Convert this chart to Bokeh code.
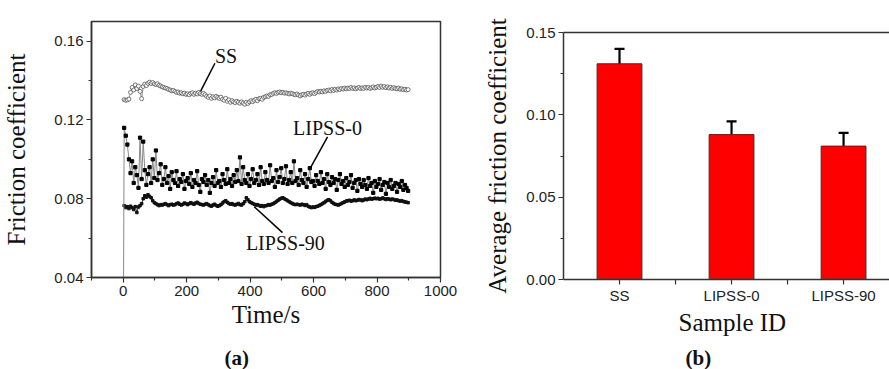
from bokeh.plotting import figure
from bokeh.layouts import row
from bokeh.models import (Range1d, FixedTicker, NumeralTickFormatter, LinearAxis,
                          Label, Whisker, ColumnDataSource, TeeHead, Title)
from bokeh.embed import file_html
from bokeh.resources import INLINE

# ---------------- data: panel (a) ----------------
time_s = list(range(3, 903, 5))  # sampling instants, s

ss = [
    .1303, .1300, .1302, .1306, .1340, .1365, .1352, .1378, .1360, .1372,
    .1345, .1308, .1370, .1382, .1375, .1386, .1392, .1385, .1390, .1383,
    .1380, .1384, .1376, .1372, .1368, .1365, .1362, .1360, .1355, .1352,
    .1348, .1350, .1345, .1340, .1342, .1336, .1338, .1333, .1336, .1330,
    .1333, .1328, .1335, .1338, .1330, .1336, .1332, .1340, .1334, .1330,
    .1335, .1328, .1320, .1315, .1322, .1310, .1318, .1312, .1320, .1315,
    .1310, .1316, .1305, .1300, .1310, .1295, .1302, .1290, .1298, .1292,
    .1288, .1295, .1290, .1285, .1292, .1286, .1280, .1290, .1284, .1292,
    .1298, .1293, .1300, .1305, .1298, .1308, .1310, .1305, .1315, .1318,
    .1322, .1320, .1328, .1330, .1335, .1338, .1335, .1340, .1342, .1338,
    .1340, .1336, .1338, .1335, .1332, .1336, .1334, .1330, .1328, .1332,
    .1326, .1322, .1328, .1330, .1326, .1332, .1335, .1330, .1336, .1338,
    .1334, .1340, .1345, .1342, .1346, .1343, .1348, .1345, .1350, .1352,
    .1348, .1355, .1350, .1356, .1352, .1358, .1355, .1360, .1357, .1362,
    .1358, .1362, .1360, .1365, .1360, .1363, .1358, .1362, .1365, .1360,
    .1363, .1360, .1366, .1362, .1365, .1360, .1364, .1368, .1362, .1366,
    .1370, .1365, .1372, .1366, .1370, .1364, .1368, .1362, .1366, .1360,
    .1364, .1360, .1358, .1362, .1356, .1358, .1354, .1356, .1352, .1354,
]

lipss0_t = [0] + time_s
lipss0 = [0.0,
    .1160, .1120, .1075, .1000, .0930, .0990, .0880, .0960, .0920, .0855,
    .1110, .0900, .1090, .0945, .0870, .0925, .0960, .0880, .1000, .0905,
    .1045, .0895, .0930, .0975, .0870, .0900, .0960, .0880, .0915, .0850,
    .0935, .0895, .0880, .0940, .0865, .0900, .0885, .0925, .0850, .0890,
    .0905, .0875, .0930, .0860, .0895, .0880, .0940, .0870, .0835, .0900,
    .0885, .0920, .0870, .0895, .0830, .0880, .0910, .0865, .0945, .0880,
    .0890, .0860, .0925, .0895, .0875, .0950, .0880, .0900, .0865, .0920,
    .0885, .0945, .0890, .1010, .0875, .0960, .0895, .0880, .0925, .0865,
    .0900, .0950, .0880, .0895, .0925, .0870, .0960, .0890, .0875, .0935,
    .0895, .0880, .0970, .0890, .0905, .0860, .0945, .0885, .0910, .0955,
    .0880, .0900, .0965, .0875, .0895, .0935, .0880, .0990, .0890, .0905,
    .0870, .0945, .0895, .0880, .0925, .0860, .0900, .0955, .0885, .0890,
    .0865, .0920, .0890, .0875, .0935, .0880, .0900, .0850, .0925, .0885,
    .0870, .0910, .0880, .0900, .0845, .0895, .0925, .0875, .0890, .0860,
    .0905, .0870, .0885, .0920, .0855, .0880, .0895, .0840, .0900, .0875,
    .0860, .0895, .0870, .0850, .0905, .0865, .0880, .0830, .0890, .0860,
    .0875, .0900, .0845, .0870, .0885, .0825, .0880, .0860, .0895, .0850,
    .0865, .0880, .0835, .0875, .0860, .0890, .0845, .0870, .0855, .0840,
]

lipss90 = [
    .0765, .0755, .0760, .0750, .0762, .0755, .0745, .0760, .0730, .0758,
    .0765, .0775, .0800, .0815, .0808, .0820, .0812, .0805, .0790, .0780,
    .0775, .0770, .0765, .0770, .0768, .0772, .0775, .0770, .0765, .0770,
    .0772, .0768, .0770, .0775, .0778, .0772, .0768, .0772, .0778, .0775,
    .0770, .0775, .0780, .0776, .0772, .0778, .0782, .0776, .0772, .0770,
    .0768, .0772, .0775, .0770, .0765, .0762, .0768, .0772, .0766, .0762,
    .0765, .0770, .0778, .0785, .0790, .0782, .0776, .0772, .0775, .0770,
    .0768, .0772, .0776, .0770, .0768, .0775, .0785, .0805, .0795, .0785,
    .0780, .0776, .0772, .0768, .0770, .0766, .0762, .0765, .0760, .0764,
    .0766, .0770, .0768, .0772, .0775, .0780, .0786, .0792, .0798, .0802,
    .0805, .0800, .0795, .0790, .0785, .0780, .0776, .0772, .0770, .0772,
    .0770, .0768, .0772, .0770, .0766, .0770, .0762, .0758, .0755, .0758,
    .0756, .0760, .0762, .0766, .0770, .0775, .0780, .0786, .0792, .0795,
    .0790, .0782, .0776, .0772, .0770, .0768, .0772, .0776, .0780, .0784,
    .0788, .0790, .0792, .0788, .0790, .0794, .0790, .0792, .0796, .0794,
    .0790, .0794, .0798, .0795, .0798, .0802, .0798, .0800, .0803, .0800,
    .0802, .0798, .0800, .0804, .0800, .0796, .0800, .0798, .0795, .0798,
    .0796, .0792, .0794, .0790, .0788, .0790, .0786, .0784, .0782, .0780,
]

a_xticks = [0, 200, 400, 600, 800, 1000]
a_xminor = [-100, 100, 300, 500, 700, 900]
a_yticks = [0.04, 0.08, 0.12, 0.16]
a_yminor = [0.06, 0.10, 0.14]

# series annotations (text position, pointer start, pointer end)
ann_text = ["SS", "LIPSS-0", "LIPSS-90"]
ann_tx = [324, 644, 511]
ann_ty = [0.1523, 0.1159, 0.0577]
ann_x0 = [289, 644, 502]
ann_y0 = [0.1488, 0.1114, 0.0628]
ann_x1 = [244, 590, 413]
ann_y1 = [0.1346, 0.0957, 0.0759]

# ---------------- data: panel (b) ----------------
samples = ["SS", "LIPSS-0", "LIPSS-90"]
avg_friction = [0.131, 0.088, 0.081]
avg_err = [0.009, 0.008, 0.008]
b_yticks = [0.00, 0.05, 0.10, 0.15]
b_yminor = [0.025, 0.075, 0.125]

SERIF = "Liberation Serif"
SANS = "Liberation Sans"
AX = "#333333"


def style_axis(ax, label_size="15px"):
    ax.axis_line_color = AX
    ax.axis_line_width = 1.5
    ax.major_tick_line_color = AX
    ax.minor_tick_line_color = AX
    ax.major_tick_line_width = 1.2
    ax.minor_tick_line_width = 1.2
    ax.major_tick_in = 0
    ax.major_tick_out = 5
    ax.minor_tick_in = 0
    ax.minor_tick_out = 3
    ax.major_label_text_font = SANS
    ax.major_label_text_font_size = label_size
    ax.major_label_text_color = "#222222"
    ax.major_label_standoff = 3
    ax.axis_label_text_font = SERIF
    ax.axis_label_text_font_size = "25px"
    ax.axis_label_text_font_style = "normal"
    ax.axis_label_text_color = "#111111"


def spacer_title(gap):
    return Title(text=" ", text_font_size="1px", standoff=gap)


# ---------------- panel (a) ----------------
p1 = figure(width=460, height=369, title=None, frame_align=False,
            min_border_left=90, min_border_right=20,
            min_border_top=21, min_border_bottom=91,
            x_range=Range1d(-100, 1000), y_range=Range1d(0.04, 0.17),
            output_backend="svg", toolbar_location=None)
p1.grid.visible = False
p1.outline_line_color = AX
p1.outline_line_width = 1.5
p1.background_fill_color = "white"
p1.border_fill_color = "white"

p1.line(time_s, ss, line_color="#777777", line_width=0.8)
p1.scatter(time_s, ss, marker="circle", size=4, fill_color="white",
           line_color="#555555", line_width=0.8)

p1.line(time_s, lipss90, line_color="#333333", line_width=1)
p1.scatter(time_s, lipss90, marker="square", size=2.5, fill_color="#111111",
           line_color="#111111")

p1.line(lipss0_t, lipss0, line_color="#888888", line_width=1)
p1.scatter(lipss0_t[1:], lipss0[1:], marker="square", size=3.2,
           fill_color="#000000", line_color="#000000")

p1.segment(x0=ann_x0, y0=ann_y0, x1=ann_x1, y1=ann_y1,
           line_color="black", line_width=1.5)
for t, x, y in zip(ann_text, ann_tx, ann_ty):
    p1.add_layout(Label(x=x, y=y, text=t, text_align="center",
                        text_baseline="middle", text_font=SERIF,
                        text_font_size="20px", text_color="#111111"))

p1.xaxis.ticker = FixedTicker(ticks=a_xticks, minor_ticks=a_xminor)
p1.yaxis.ticker = FixedTicker(ticks=a_yticks, minor_ticks=a_yminor)
p1.yaxis.formatter = NumeralTickFormatter(format="0.00")
p1.xaxis.axis_label = "Time/s"
p1.yaxis.axis_label = "Friction coefficient"
for ax in p1.xaxis + p1.yaxis:
    style_axis(ax)
p1.xaxis.axis_label_standoff = 2
p1.yaxis.axis_label_standoff = 21

p1.add_layout(spacer_title(10), "below")
p1.add_layout(Title(text="(a)", align="left", offset=133, text_font=SERIF,
                    text_font_size="21px", text_font_style="bold",
                    text_color="#111111", standoff=0), "below")

# ---------------- panel (b) ----------------
positions = [i + 1 for i in range(len(samples))]
src = ColumnDataSource(data=dict(
    x=positions, top=avg_friction,
    upper=[a + e for a, e in zip(avg_friction, avg_err)],
    lower=[a - e for a, e in zip(avg_friction, avg_err)]))

p2 = figure(width=429, height=369, title=None, frame_align=False,
            min_border_left=103, min_border_right=0,
            min_border_top=32, min_border_bottom=86,
            x_range=Range1d(0.5, 3.41), y_range=Range1d(0, 0.15),
            output_backend="svg", toolbar_location=None)
p2.grid.visible = False
p2.outline_line_color = None
p2.background_fill_color = "white"
p2.border_fill_color = "white"

p2.vbar(x="x", top="top", width=0.4, bottom=0, source=src,
        fill_color="#ff0000", line_color="#333333", line_width=1)
p2.add_layout(Whisker(source=src, base="x", upper="upper", lower="lower",
                      line_color="black", line_width=2.2,
                      upper_head=TeeHead(size=10, line_width=2.2, line_color="black"),
                      lower_head=TeeHead(size=10, line_width=2.2, line_color="black")))

p2.xaxis.ticker = FixedTicker(ticks=positions, minor_ticks=[1.5, 2.5])
p2.xaxis.major_label_overrides = {p: s for p, s in zip(positions, samples)}
p2.yaxis.ticker = FixedTicker(ticks=b_yticks, minor_ticks=b_yminor)
p2.yaxis.formatter = NumeralTickFormatter(format="0.00")
p2.yaxis.axis_label = "Average friction coefficient"
for ax in p2.xaxis + p2.yaxis:
    style_axis(ax, "15px")
p2.xaxis.minor_tick_out = 5
p2.xaxis.major_label_standoff = 2
p2.yaxis.axis_label_standoff = 12

top_ax = LinearAxis(axis_line_color=AX, axis_line_width=1.5,
                    major_tick_line_color=None, minor_tick_line_color=None,
                    major_label_text_font_size="0px",
                    ticker=FixedTicker(ticks=[]))
p2.add_layout(top_ax, "above")

p2.add_layout(Title(text="Sample ID", align="left", offset=115, text_font=SERIF,
                    text_font_size="25px", text_font_style="normal",
                    text_line_height=0.75,
                    text_color="#111111", standoff=0), "below")
p2.add_layout(spacer_title(5), "below")
p2.add_layout(Title(text="(b)", align="left", offset=122, text_font=SERIF,
                    text_font_size="21px", text_font_style="bold",
                    text_color="#111111", standoff=0), "below")

layout = row(p1, p2)
open("out.html", "w").write(file_html(layout, INLINE))
